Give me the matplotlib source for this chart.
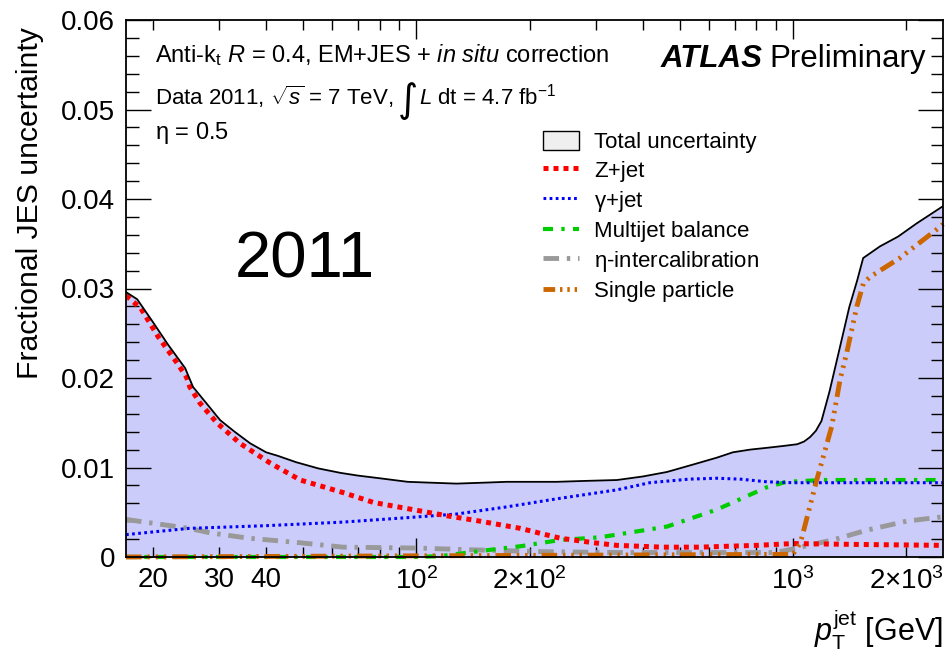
import matplotlib
matplotlib.use("Agg")
import matplotlib.pyplot as plt
import matplotlib.ticker as mticker
from matplotlib.patches import Patch
from matplotlib.lines import Line2D

plt.rcParams['font.family'] = ['Liberation Sans', 'DejaVu Sans']
plt.rcParams['mathtext.fontset'] = 'custom'
plt.rcParams['mathtext.rm'] = 'Liberation Sans'
plt.rcParams['mathtext.it'] = 'Liberation Sans:italic'
plt.rcParams['mathtext.bf'] = 'Liberation Sans:bold'

# ---- data ----
pt_tot = [17, 18.2, 20, 22, 24.4, 25.6, 28, 30.2, 33, 36.3, 40, 43, 48, 55, 63, 70, 80, 95,
          110, 128, 150, 174, 200, 236, 280, 341, 400, 463, 540, 628, 693, 770, 853, 940,
          1026, 1070, 1110, 1150, 1190, 1250, 1333, 1410, 1480, 1535, 1700, 1900, 2133, 2300, 2500]
tot = [0.0296, 0.0288, 0.0263, 0.0237, 0.0211, 0.0190, 0.0170, 0.0153, 0.0140, 0.0127, 0.0117,
       0.0113, 0.0106, 0.0099, 0.0094, 0.0091, 0.0088, 0.0084, 0.0083, 0.0082, 0.0083, 0.0084,
       0.0084, 0.0084, 0.0085, 0.0086, 0.0090, 0.0095, 0.0103, 0.0111, 0.0117, 0.0120, 0.0122,
       0.0124, 0.0126, 0.0129, 0.0134, 0.0141, 0.0152, 0.0185, 0.0235, 0.0279, 0.0309, 0.0334,
       0.0347, 0.0358, 0.0373, 0.0382, 0.0392]

pt_z = [17, 18.6, 20.7, 23.2, 24.6, 25.1, 26.7, 29.6, 34.1, 41, 49.3, 64, 77, 95, 121, 148,
        189, 241, 295, 341, 450, 566, 800, 1000, 1500, 2500]
zjet = [0.0292, 0.0278, 0.0246, 0.0217, 0.0201, 0.0190, 0.0172, 0.0150, 0.0127, 0.0105, 0.0086,
        0.0072, 0.0061, 0.0054, 0.0046, 0.0040, 0.0032, 0.0021, 0.0016, 0.0013, 0.0011, 0.0011,
        0.0013, 0.0015, 0.0014, 0.0013]

pt_g = [17, 25, 40, 64, 95, 128, 174, 236, 341, 417, 530, 628, 724, 853, 1000, 1500, 2500]
gjet = [0.0025, 0.0032, 0.0035, 0.0039, 0.0044, 0.0048, 0.0056, 0.0065, 0.0075, 0.0083, 0.0087,
        0.0088, 0.0087, 0.0084, 0.0083, 0.0083, 0.0083]

pt_m = [17, 100, 116, 157, 189, 241, 307, 341, 463, 628, 853, 960, 1200, 2500]
mjb = [0, 0, 0.0001, 0.0008, 0.0012, 0.0019, 0.0022, 0.0025, 0.0034, 0.0053, 0.0078, 0.0084,
       0.0086, 0.0086]

pt_e = [17, 25, 28.4, 36, 49, 64, 100, 142, 213, 341, 600, 900, 1000, 1100, 1300, 1570, 2000, 2500]
etaic = [0.0042, 0.0032, 0.0027, 0.0021, 0.0016, 0.0011, 0.0010, 0.0008, 0.0006, 0.0005, 0.0005,
         0.0005, 0.0009, 0.0013, 0.0020, 0.0030, 0.0040, 0.0045]

pt_s = [17, 1000, 1047, 1156, 1267, 1333, 1388, 1477, 1538, 1601, 1920, 2458, 2500]
single = [0, 0.0003, 0.0016, 0.0086, 0.0146, 0.0198, 0.0228, 0.0280, 0.0306, 0.0313, 0.0334,
          0.0369, 0.0372]

x_major = [100, 1000]
x_minor = [20, 30, 40, 50, 60, 70, 80, 90, 200, 300, 400, 500, 600, 700, 800, 900, 2000]
x_labels = {20: "20", 30: "30", 40: "40", 100: r"$10^{2}$", 200: r"$2{\times}10^{2}$",
            1000: r"$10^{3}$", 2000: r"$2{\times}10^{3}$"}
y_ticks = [0, 0.01, 0.02, 0.03, 0.04, 0.05, 0.06]
y_labels = ["0", "0.01", "0.02", "0.03", "0.04", "0.05", "0.06"]

# ---- figure ----
fig = plt.figure(figsize=(9.49, 6.51), dpi=100)
ax = fig.add_axes([126/949, 94/651, 817/949, 537/651])
ax.set_xscale('log')
ax.set_xlim(17, 2500)
ax.set_ylim(0, 0.06)

ax.fill_between(pt_tot, 0, tot, color='#ccccfa', lw=0, zorder=1)
ax.plot(pt_tot, tot, color='black', lw=1.3, zorder=8)

st_e = dict(color='#999999', lw=3.5, dashes=(3.2, 1.6, 0.7, 1.6), dash_capstyle='butt')
st_m = dict(color='#00cc00', lw=3.0, dashes=(2.4, 2.0, 0.8, 2.0), dash_capstyle='butt')
st_g = dict(color='#0000ff', lw=2.2, dashes=(0.9, 1.1), dash_capstyle='butt')
st_z = dict(color='#ff0000', lw=3.6, dashes=(1, 1), dash_capstyle='butt')
st_s = dict(color='#cc6600', lw=3.5, dashes=(3.2, 1.2, 0.5, 1.2, 0.5, 1.2, 0.5, 1.2),
            dash_capstyle='butt')

ax.plot(pt_e, etaic, zorder=3, clip_on=False, **st_e)
ax.plot(pt_m, mjb, zorder=4, clip_on=False, **st_m)
ax.plot(pt_g, gjet, zorder=5, **st_g)
ax.plot(pt_z, zjet, zorder=6, **st_z)
ax.plot(pt_s, single, zorder=7, clip_on=False, **st_s)

# ticks
ax.xaxis.set_major_locator(mticker.FixedLocator(x_major))
ax.xaxis.set_minor_locator(mticker.FixedLocator(x_minor))
ax.xaxis.set_major_formatter(mticker.FuncFormatter(lambda v, p: x_labels.get(int(round(v)), "")))
ax.xaxis.set_minor_formatter(mticker.FuncFormatter(lambda v, p: x_labels.get(int(round(v)), "")))
ax.yaxis.set_major_locator(mticker.FixedLocator(y_ticks))
ax.yaxis.set_major_formatter(mticker.FixedFormatter(y_labels))
ax.yaxis.set_minor_locator(mticker.MultipleLocator(0.002))
ax.tick_params(which='both', direction='in', top=True, right=True, labelsize=20, width=1.0)
ax.tick_params(axis='x', which='major', length=14, pad=7)
ax.tick_params(axis='x', which='minor', length=7, pad=7, labelsize=20)
ax.tick_params(axis='y', which='major', length=18, pad=8)
ax.tick_params(axis='y', which='minor', length=9)
for s in ax.spines.values():
    s.set_linewidth(1.3)
    s.set_zorder(10)

fig.text(30/949, 1 - 27/651, "Fractional JES uncertainty", rotation=90, ha='center', va='top',
         fontsize=21.7)
fig.text(943/949, 1 - 642/651, r"$p_{\mathrm{T}}^{\mathrm{jet}}$ [GeV]", ha='right',
         va='baseline', fontsize=22)

FS = 17
tkw = dict(transform=ax.transAxes, fontsize=FS, va='baseline', ha='left')
tkw2 = dict(transform=ax.transAxes, fontsize=16, va='baseline', ha='left')
ax.text(0.0355, 0.922, r"Anti-k$_{\mathrm{t}}$ $R$ = 0.4, EM+JES + $in\ situ$ correction", **tkw)
t1 = ax.text(0.0355, 0.842, r"Data 2011, $\sqrt{s}$ = 7 TeV,", **tkw2)
ax.text(0.0355, 0.779, r"$\mathrm{\eta}$ = 0.5", **tkw)
tp = ax.text(0.979, 0.912, "Preliminary", transform=ax.transAxes, fontsize=22.5, ha='right',
             va='baseline')
ax.text(0.219, 0.52, "2011", transform=ax.transAxes, fontsize=47, ha='center', va='baseline')

fig.canvas.draw()
r = fig.canvas.get_renderer()
inv = ax.transAxes.inverted()
bb = t1.get_window_extent(r)
x_int = inv.transform((bb.x1 + 5, 0))[0]
t2 = ax.text(x_int, 0.842 - 0.013, "\u222b", transform=ax.transAxes, fontsize=28,
             va='baseline', ha='left', family='DejaVu Sans')
bb2 = t2.get_window_extent(r)
x3 = inv.transform((bb2.x1 + 1, 0))[0]
ax.text(x3, 0.842, r"$L$ dt = 4.7 fb$^{\mathrm{-1}}$", **tkw2)

bbp = tp.get_window_extent(r)
xa = inv.transform((bbp.x0 - 7, 0))[0]
ax.text(xa, 0.912, "ATLAS", transform=ax.transAxes, fontsize=22.5, ha='right', va='baseline',
        fontweight='bold', fontstyle='italic')

handles = [
    Patch(facecolor='#efefef', edgecolor='black', lw=1.0),
    Line2D([], [], **st_z),
    Line2D([], [], **st_g),
    Line2D([], [], **st_m),
    Line2D([], [], **st_e),
    Line2D([], [], color='#cc6600', lw=3.5, dashes=(2.4, 1.0, 0.5, 1.0, 0.5, 1.0, 0.5, 1.0),
           dash_capstyle='butt'),
]
labels = ["Total uncertainty", "Z+jet", r"$\mathrm{\gamma}$+jet", "Multijet balance",
          r"$\mathrm{\eta}$-intercalibration", "Single particle"]
leg = ax.legend(handles, labels, loc='upper left', bbox_to_anchor=(0.510, 0.7925), frameon=False,
                fontsize=16, handlelength=1.65, handleheight=0.9, labelspacing=0.3,
                handletextpad=0.68, borderaxespad=0, borderpad=0)
leg.set_zorder(11)

fig.savefig("out.png", dpi=100)
